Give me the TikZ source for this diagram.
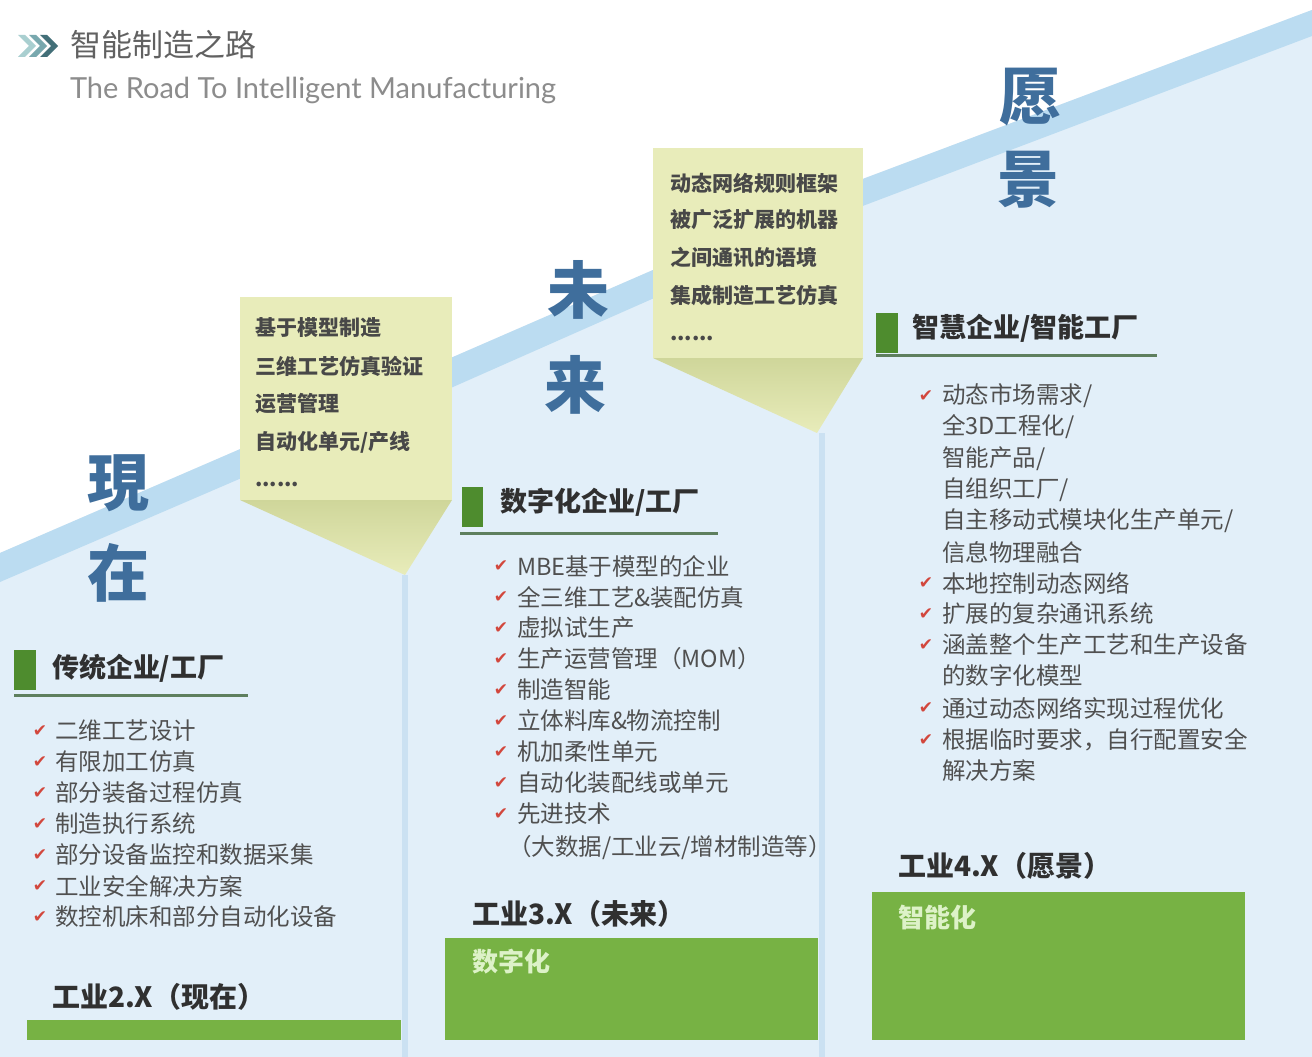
\documentclass[tikz,border=0pt]{standalone}
\usepackage{fontspec}
\setmainfont{Noto Sans CJK SC}
\newfontfamily\djv{DejaVu Sans}
\newfontfamily\latofont{Lato}
\usetikzlibrary{calc}
\definecolor{bgblue}{HTML}{E2EFF9}
\definecolor{bandblue}{HTML}{BBDCF1}
\definecolor{divblue}{HTML}{CBE1F2}
\definecolor{calliblue}{HTML}{3F6E9C}
\definecolor{txtgrey}{HTML}{505050}
\definecolor{headdark}{HTML}{303030}
\definecolor{barGreen}{HTML}{77B244}
\definecolor{markGreen}{HTML}{4E8C2E}
\definecolor{lineGreen}{HTML}{5E7F5E}
\definecolor{noteYellow}{HTML}{E8ECBA}
\definecolor{noteShade}{HTML}{CFD69A}
\definecolor{checkRed}{HTML}{D2473D}
\definecolor{paleGreen}{HTML}{DDF2C8}
\begin{document}
\begin{tikzpicture}[x=1pt,y=-1pt,
  every node/.style={inner sep=0pt, outer sep=0pt},
  item/.style={anchor=west, font=\fontsize{23.5}{24}\selectfont, text=txtgrey},
  chk/.style={font=\djv\fontsize{17}{17}\selectfont, text=checkRed},
  note/.style={anchor=west, font=\fontsize{21}{22}\selectfont\bfseries, text=txtgrey!90!black},
  heading/.style={anchor=west, font=\fontsize{27}{28}\selectfont\bfseries, text=headdark},
  footer/.style={anchor=west, font=\fontsize{28}{29}\selectfont\bfseries, text=headdark},
  calli/.style={font=\fontsize{62}{62}\selectfont\bfseries, text=calliblue},
  boxlabel/.style={anchor=west, font=\fontsize{26}{27}\selectfont\bfseries, text=paleGreen}]
% canvas
\useasboundingbox (0,0) rectangle (1312,1057);
\fill[white] (0,0) rectangle (1312,1057);
% light blue area below the diagonal
\fill[bgblue] (0,553) -- (453,357) -- (860,180) -- (1312,10) -- (1312,1057) -- (0,1057) -- cycle;
% diagonal band
\fill[bandblue] (0,553) -- (453,357) -- (860,180) -- (1312,10) -- (1312,36) -- (860,207) -- (453,387) -- (0,582) -- cycle;
% column dividers
\fill[divblue] (402,575) rectangle (408,1057);
\fill[divblue] (819,433) rectangle (825,1057);

% title
\foreach \k/\c in {0/A9CFD0,1/78A8AE,2/436F78}{
  \definecolor{chev}{HTML}{\c}
  \fill[chev] ($(18+11*\k,35)$) -- ++(7,0) -- ++(11,11) -- ++(-11,11) -- ++(-7,0) -- ++(11,-11) -- cycle;
}
\node[anchor=west, font=\fontsize{31}{32}\selectfont, text=black!62] (title) at (70,45) {智能制造之路};
\node[anchor=west, font=\latofont\fontsize{29}{30}\selectfont, text=black!45] (subtitle) at (70,90) {The Road To Intelligent Manufacturing};

% callout notes
\fill[noteYellow] (240,297) rectangle (452,500);
\shade[top color=noteShade, bottom color=noteYellow] (240,500) -- (452,500) -- (405,575) -- cycle;
\fill[noteYellow] (653,148) rectangle (863,358);
\shade[top color=noteShade, bottom color=noteYellow] (653,358) -- (863,358) -- (817,433) -- cycle;

\node[note] (n1a) at (255,328) {基于模型制造};
\node[note] (n1b) at (255,366) {三维工艺仿真验证};
\node[note] (n1c) at (255,404) {运营管理};
\node[note] (n1d) at (255,442) {自动化单元/产线};
\node[note] (n1e) at (255,484) {......};
\node[note] (n2a) at (670,183) {动态网络规则框架};
\node[note] (n2b) at (670,220) {被广泛扩展的机器};
\node[note] (n2c) at (670,258) {之间通讯的语境};
\node[note] (n2d) at (670,295) {集成制造工艺仿真};
\node[note] (n2e) at (670,338) {......};

% calligraphy characters
\node[calli] (xian) at (118,483) {現};
\node[calli] (zai) at (118,573) {在};
\node[calli] (wei) at (578,290) {未};
\node[calli] (lai) at (575,385) {来};
\node[calli] (yuan) at (1030,97) {愿};
\node[calli] (jing) at (1028,180) {景};

% headings
\fill[markGreen] (14,650) rectangle (36,690);
\node[heading] (h1) at (52,668) {传统企业/工厂};
\draw[lineGreen, line width=3pt] (14,695) -- (248,695);
\fill[markGreen] (462,487) rectangle (483,527);
\node[heading] (h2) at (500,502) {数字化企业/工厂};
\draw[lineGreen, line width=3pt] (460,533) -- (718,533);
\fill[markGreen] (876,313) rectangle (898,353);
\node[heading] (h3) at (912,328) {智慧企业/智能工厂};
\draw[lineGreen, line width=3pt] (876,355) -- (1157,355);

% column 1 bullets
\foreach \t [count=\i from 0] in {二维工艺设计,有限加工仿真,部分装备过程仿真,制造执行系统,部分设备监控和数据采集,工业安全解决方案,数控机床和部分自动化设备}{
  \node[chk] (c1k\i) at (40,{731+31*\i}) {✔};
  \node[item] (c1t\i) at (55,{731+31*\i}) {\t};
}
% column 2 bullets
\foreach \t [count=\i from 0] in {MBE基于模型的企业,全三维工艺\&装配仿真,虚拟试生产,生产运营管理（MOM）,制造智能,立体料库\&物流控制,机加柔性单元,自动化装配线或单元,先进技术}{
  \node[chk] (c2k\i) at (501,{566+31*\i}) {✔};
  \node[item] (c2t\i) at (517,{566+31*\i}) {\t};
}
\node[item] (c2cont) at (508,848) {（大数据/工业云/增材制造等）};
% column 3 bullets
\foreach \t/\y/\c [count=\i] in {{动态市场需求/}/396/1,{全3D工程化/}/427/0,{智能产品/}/459/0,{自组织工厂/}/490/0,{自主移动式模块化生产单元/}/521/0,信息物理融合/552/0,本地控制动态网络/583/1,扩展的复杂通讯系统/614/1,涵盖整个生产工艺和生产设备/645/1,的数字化模型/676/0,通过动态网络实现过程优化/708/1,根据临时要求，自行配置安全/740/1,解决方案/771/0}{
  \node[item] (c3t\i) at (942,\y) {\t};
  \ifnum\c=1 \node[chk] (c3k\i) at (926,\y) {✔}; \fi
}

% footers
\node[footer] (f1) at (52,997) {工业2.X（现在）};
\fill[barGreen] (27,1020) rectangle (401,1040);
\node[footer] (f2) at (472,914) {工业3.X（未来）};
\fill[barGreen] (445,938) rectangle (818,1040);
\node[boxlabel] (b2) at (472,962) {数字化};
\node[footer] (f3) at (898,866) {工业4.X（愿景）};
\fill[barGreen] (872,892) rectangle (1245,1040);
\node[boxlabel] (b3) at (898,917) {智能化};
\end{tikzpicture}
\end{document}
